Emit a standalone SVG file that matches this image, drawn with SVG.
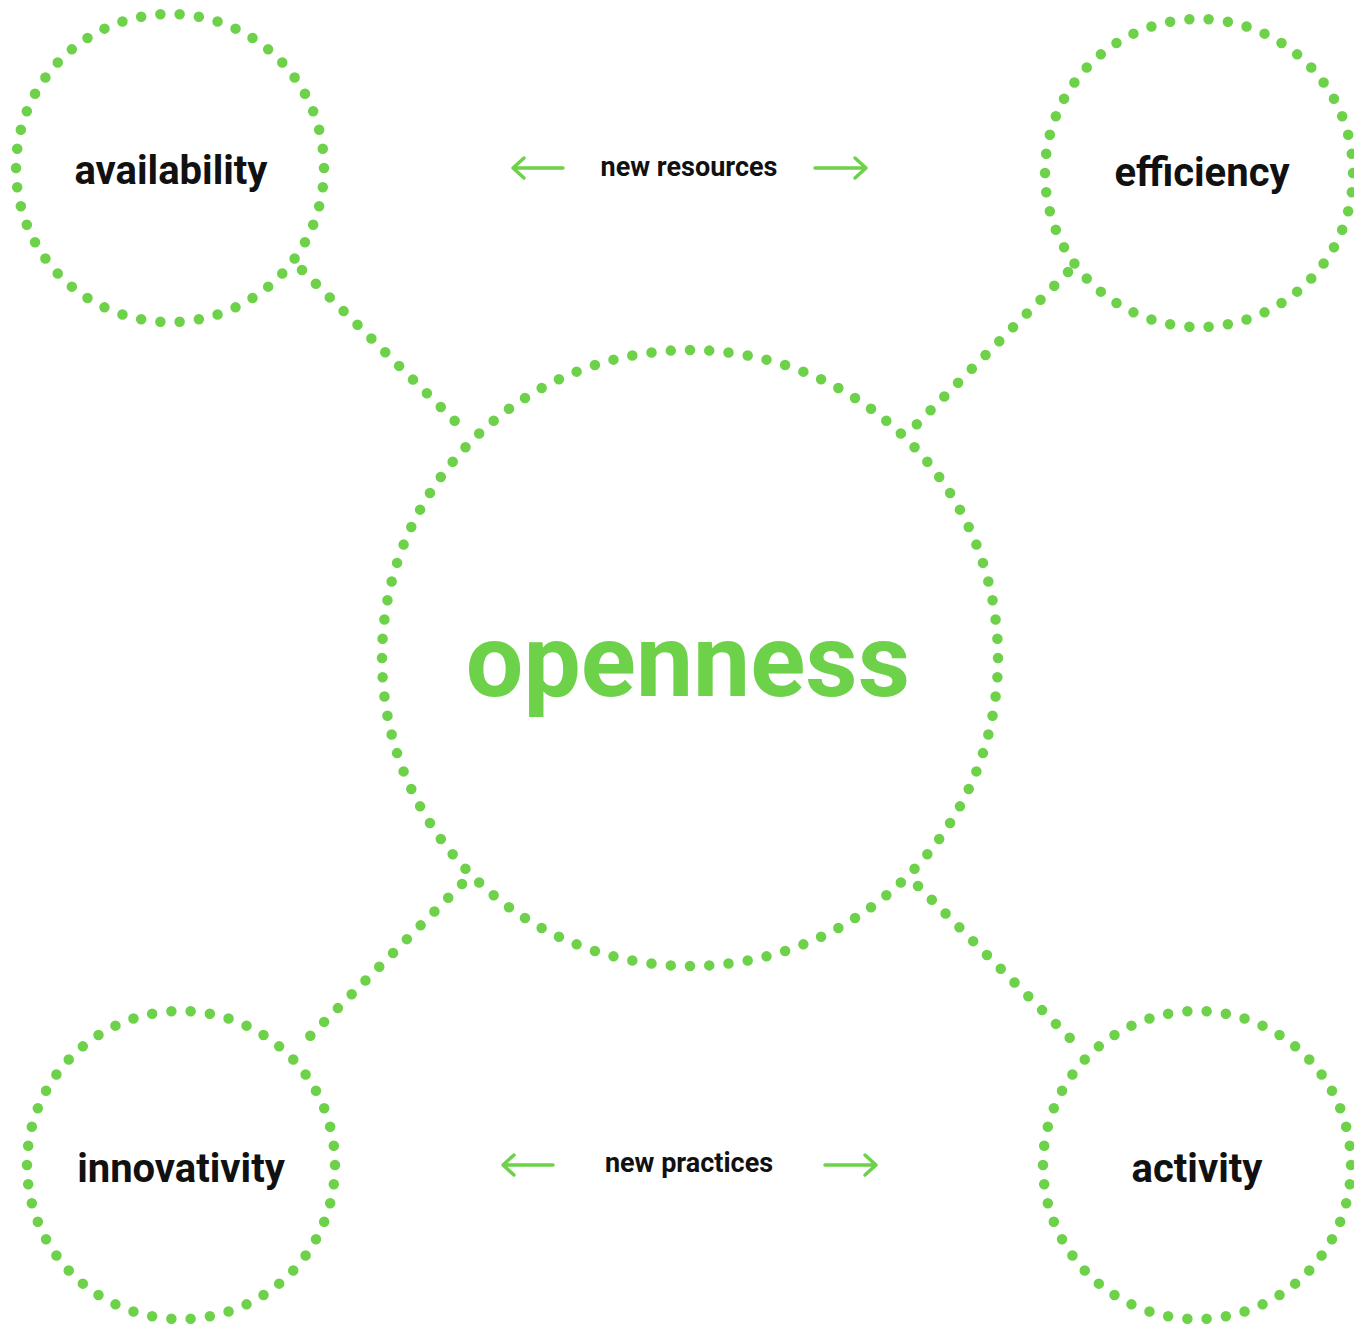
<svg xmlns="http://www.w3.org/2000/svg" width="1354" height="1326" viewBox="0 0 1354 1326">
<style>
.ring{fill:none;stroke:#6dd14a;stroke-width:10.5;stroke-linecap:round;stroke-dasharray:0 1}
.link{fill:none;stroke:#6dd14a;stroke-width:10.5;stroke-linecap:round;stroke-dasharray:0 19.5}
.lbl{font-family:Roboto,"Liberation Sans",sans-serif;font-weight:700;fill:#111;text-anchor:middle}
.arr{fill:none;stroke:#6dd14a;stroke-width:3.5;stroke-linecap:round;stroke-linejoin:round}
</style>
<rect width="1354" height="1326" fill="#fff"/>
<g id="connectors">
<line class="link" x1="302" y1="270" x2="462" y2="428"/>
<line class="link" x1="1068" y1="272" x2="916" y2="425"/>
<line class="link" x1="462" y1="884" x2="302" y2="1044"/>
<line class="link" x1="918" y1="886" x2="1078" y2="1046"/>
<path class="arr" d="M563 168H513M524 158L513 168L524 178"/>
<path class="arr" d="M815 168H866M855 158L866 168L855 178"/>
<path class="arr" d="M553 1165H503M514 1155L503 1165L514 1175"/>
<path class="arr" d="M825 1165H876M865 1155L876 1165L865 1175"/>
</g>
<g id="openness">
<circle class="ring" cx="690" cy="658" r="308" pathLength="100"/>
<text x="688" y="696" style="font-family:Roboto,'Liberation Sans',sans-serif;font-weight:700;font-size:102px;fill:#6dd14a;text-anchor:middle">openness</text>
</g>
<g id="availability">
<circle class="ring" cx="170" cy="168" r="154" pathLength="50"/>
<text class="lbl" x="171" y="184" font-size="40">availability</text>
</g>
<g id="efficiency">
<circle class="ring" cx="1199" cy="173" r="154" pathLength="50"/>
<text class="lbl" x="1202" y="186" font-size="40">efficiency</text>
</g>
<g id="innovativity">
<circle class="ring" cx="181" cy="1165" r="154" pathLength="50"/>
<text class="lbl" x="181" y="1182" font-size="40">innovativity</text>
</g>
<g id="activity">
<circle class="ring" cx="1197" cy="1165" r="154" pathLength="50"/>
<text class="lbl" x="1197" y="1182" font-size="40">activity</text>
</g>
<g id="new-resources">
<text class="lbl" x="689" y="176" font-size="27">new resources</text>
</g>
<g id="new-practices">
<text class="lbl" x="689" y="1172" font-size="27">new practices</text>
</g>
</svg>
